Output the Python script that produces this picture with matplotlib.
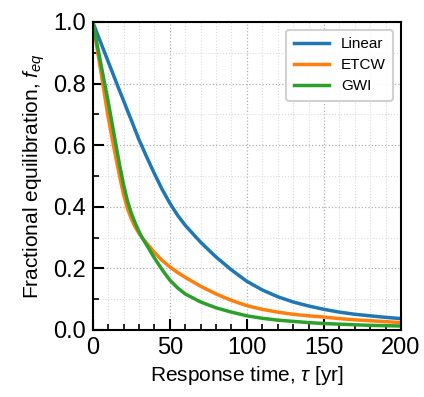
import numpy as np
import matplotlib
matplotlib.use("Agg")
import matplotlib.pyplot as plt
from matplotlib.ticker import MultipleLocator

plt.rcParams['font.family'] = ['Liberation Sans', 'DejaVu Sans']
plt.rcParams['mathtext.fontset'] = 'custom'
plt.rcParams['mathtext.it'] = 'Liberation Sans:italic'
plt.rcParams['mathtext.rm'] = 'Liberation Sans'

tau = [0, 2.5, 5, 7.5, 10, 12.5, 15, 17.5, 20, 22.5, 25, 27.5, 30, 32, 35, 40, 45, 50, 55, 60,
       70, 80, 90, 100, 110, 120, 130, 140, 150, 160, 170, 180, 190, 200]
linear = [1.0, 0.968, 0.936, 0.904, 0.872, 0.84, 0.808, 0.776, 0.745, 0.713, 0.682, 0.65, 0.618, 0.596, 0.562,
          0.508, 0.457, 0.412, 0.373, 0.340,
          0.285, 0.237, 0.195, 0.158, 0.13, 0.108, 0.091, 0.078, 0.067, 0.058, 0.051, 0.046, 0.041, 0.037]
etcw = [1.0, 0.925, 0.848, 0.77, 0.692, 0.625, 0.56, 0.498, 0.44, 0.395, 0.362, 0.335, 0.314, 0.30, 0.282,
        0.252, 0.226, 0.205, 0.187, 0.171,
        0.142, 0.117, 0.096, 0.079, 0.067, 0.058, 0.051, 0.046, 0.042, 0.037, 0.033, 0.030, 0.027, 0.024]
gwi = [1.0, 0.936, 0.872, 0.807, 0.743, 0.673, 0.603, 0.535, 0.472, 0.42, 0.38, 0.348, 0.32, 0.30, 0.276,
       0.234, 0.196, 0.162, 0.137, 0.117,
       0.091, 0.072, 0.058, 0.046, 0.038, 0.032, 0.028, 0.024, 0.021, 0.019, 0.017, 0.015, 0.014, 0.013]

fig = plt.figure(figsize=(4.24, 3.97), dpi=100)
ax = fig.add_axes([0.2186, 0.1688, 0.7272, 0.7758])

ax.plot(tau, linear, color='#1f77b4', lw=2.5, label='Linear')
ax.plot(tau, etcw, color='#ff7f0e', lw=2.5, label='ETCW')
ax.plot(tau, gwi, color='#2ca02c', lw=2.5, label='GWI')

ax.set_xlim(0, 200)
ax.set_ylim(0, 1.0)
ax.xaxis.set_major_locator(MultipleLocator(50))
ax.xaxis.set_minor_locator(MultipleLocator(10))
ax.yaxis.set_major_locator(MultipleLocator(0.2))
ax.yaxis.set_minor_locator(MultipleLocator(0.1))
ax.grid(which='major', linestyle=':', color='#b0b0b0', lw=0.9)
ax.grid(which='minor', linestyle=':', color='#dcdcdc', lw=0.8)
ax.set_axisbelow(True)

ax.tick_params(which='major', direction='in', length=8, width=1.5, labelsize=17, pad=5)
ax.tick_params(which='minor', direction='in', length=4.5, width=1.2)
for s in ax.spines.values():
    s.set_linewidth(1.5)

ax.set_xlabel(r'Response time, $\tau$ [yr]', fontsize=15)
ax.set_ylabel(r'Fractional equilibration, $f_{eq}$', fontsize=15)

leg = ax.legend(loc='upper right', fontsize=11, handlelength=2.3, framealpha=0.9,
                fancybox=True, borderpad=0.5, labelspacing=0.45)
leg.get_frame().set_linewidth(1.5)
leg.get_frame().set_edgecolor('#cccccc')

fig.savefig('out.png', dpi=100)
